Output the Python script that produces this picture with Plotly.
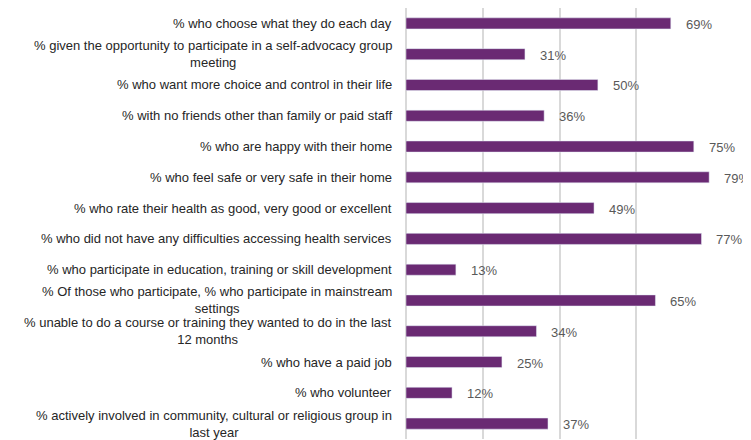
import plotly.graph_objects as go

CATEGORIES = [
    "% who choose what they do each day",
    "% given the opportunity to participate in a self-advocacy group<br>meeting",
    "% who want more choice and control in their life",
    "% with no friends other than family or paid staff",
    "% who are happy with their home",
    "% who feel safe or very safe in their home",
    "% who rate their health as good, very good or excellent",
    "% who did not have any difficulties accessing health services",
    "% who participate in education, training or skill development",
    "% Of those who participate, % who participate in mainstream<br>settings",
    "% unable to do a course or training they wanted to do in the last<br>12 months",
    "% who have a paid job",
    "% who volunteer",
    "% actively involved in community, cultural or religious group in<br>last year",
]
VALUES = [69, 31, 50, 36, 75, 79, 49, 77, 13, 65, 34, 25, 12, 37]
TICKS = [0, 20, 40, 60, 80]

BAR_COLOR = "#6a2a73"
FONT = "Liberation Sans, Arial, sans-serif"

y_keys = list(range(len(CATEGORIES)))

fig = go.Figure(
    go.Bar(
        x=VALUES,
        y=y_keys,
        orientation="h",
        marker_color=BAR_COLOR,
        width=0.36,
        hoverinfo="skip",
    )
)

for i, (label, val) in enumerate(zip(CATEGORIES, VALUES)):
    # category label, lines centred like the original
    fig.add_annotation(
        x=0, xref="paper", y=i, yref="y",
        text=label, showarrow=False,
        xanchor="right", yanchor="middle", align="center", xshift=-12,
        font=dict(family=FONT, size=13, color="#262626"),
    )
    # value label
    fig.add_annotation(
        x=val, xref="x", y=i, yref="y",
        text=f"{val}%", showarrow=False,
        xanchor="left", yanchor="middle", xshift=13, yshift=-1,
        font=dict(family=FONT, size=13, color="#595959"),
    )

# the page body adds an 8px offset; size the figure so it ends at the window edge
fig.update_layout(
    width=743,
    height=432,
    paper_bgcolor="white",
    plot_bgcolor="white",
    margin=dict(l=398, r=38, t=0, b=1),
    showlegend=False,
    font=dict(family=FONT, size=13),
)
fig.update_xaxes(
    range=[0, 80],
    tickvals=TICKS,
    showticklabels=False,
    showgrid=True,
    gridcolor="#d9d9d9",
    gridwidth=1.5,
    zeroline=True,
    zerolinecolor="#d9d9d9",
    zerolinewidth=1.5,
    showline=False,
)
fig.update_yaxes(
    range=[len(CATEGORIES) - 0.5, -0.5],
    showticklabels=False,
    showgrid=False,
    zeroline=False,
    showline=False,
)

fig.write_html("out.html")
